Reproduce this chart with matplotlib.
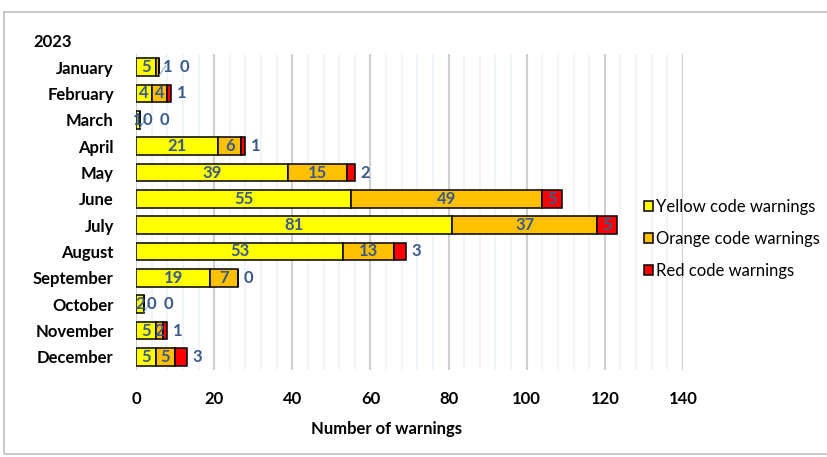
import matplotlib.pyplot as plt
from matplotlib.patches import Rectangle
from matplotlib.ticker import MultipleLocator

plt.rcParams['font.family'] = ['Lato', 'DejaVu Sans']

months = ["January", "February", "March", "April", "May", "June", "July",
          "August", "September", "October", "November", "December"]
yellow = [5, 4, 1, 21, 39, 55, 81, 53, 19, 2, 5, 5]
orange = [1, 4, 0, 6, 15, 49, 37, 13, 7, 0, 2, 5]
red = [0, 1, 0, 1, 2, 5, 5, 3, 0, 0, 1, 3]

lab_col = '#3A5A8C'

fig = plt.figure(figsize=(8.28, 4.57), dpi=100)
ax = fig.add_axes([136 / 828, 1 - 370 / 457, (683 - 136) / 828, (370 - 54) / 457])

# outer chart frame (right side runs off the image)
fig.patches.append(Rectangle((4 / 828, 3 / 457), 1.05, 1 - 15 / 457, transform=fig.transFigure,
                             fill=False, edgecolor='#BFBFBF', lw=1.2, clip_on=False))

y = list(range(len(months)))
h = 0.68
ax.barh(y, yellow, height=h, color='#FFFF00', edgecolor='black', lw=1.1,
        label='Yellow code warnings', zorder=3)
ax.barh(y, orange, left=yellow, height=h, color='#FFC000', edgecolor='black', lw=1.1,
        label='Orange code warnings', zorder=3)
left2 = [a + b for a, b in zip(yellow, orange)]
ax.barh(y, red, left=left2, height=h, color='#FF0000', edgecolor='black', lw=1.1,
        label='Red code warnings', zorder=3)

kw = dict(color=lab_col, fontsize=12, fontweight='bold', va='center', zorder=5)
for i in y:
    tot = left2[i] + red[i]
    ax.text(yellow[i] / 2, i, str(yellow[i]), ha='center', **kw)
    if orange[i] >= 2:
        ax.text(yellow[i] + orange[i] / 2, i, str(orange[i]), ha='center', **kw)
        if red[i] >= 5:
            ax.text(left2[i] + red[i] / 2, i, str(red[i]), ha='center', **kw)
        else:
            ax.text(tot + 1.5, i, str(red[i]), ha='left', **kw)
    else:
        # tiny segments: labels pushed out with leader lines
        ax.plot([left2[i], tot + 1.6], [i + 0.3, i - 0.05], color='#8EA9DB', lw=0.8, zorder=4)
        ax.text(tot + 2.0, i, str(orange[i]), ha='center', **kw)
        ax.text(tot + 6.3, i, str(red[i]), ha='center', **kw)

ax.set_xlim(0, 140)
ax.set_ylim(len(months) - 0.5, -0.5)
ax.set_yticks(y)
ax.set_yticklabels(months, fontsize=12, fontweight='bold')
ax.xaxis.set_major_locator(MultipleLocator(20))
ax.xaxis.set_minor_locator(MultipleLocator(4))
ax.grid(axis='x', which='major', color='#D0D0D0', lw=1.5, zorder=0)
ax.grid(axis='x', which='minor', color='#EEF3FA', lw=1.2, zorder=0)
ax.tick_params(axis='both', which='both', length=0)
ax.tick_params(axis='x', pad=15, labelsize=12)
ax.tick_params(axis='y', pad=16)
for t in ax.get_xticklabels():
    t.set_fontweight('bold')
for s in ax.spines.values():
    s.set_visible(False)

fig.text(33 / 828, 1 - 42 / 457, "2023", fontsize=12, fontweight='bold', va='center')
fig.text(387 / 828, 1 - 429 / 457, "Number of warnings", fontsize=12, fontweight='bold',
         ha='center', va='center')

fig.legend(loc='upper left', bbox_to_anchor=(644 / 828, 1 - 199 / 457), frameon=False,
           fontsize=12, handlelength=0.55, handleheight=0.55, handletextpad=0.2,
           labelspacing=0.95, borderpad=0, borderaxespad=0)

fig.savefig('out.png', dpi=100)
